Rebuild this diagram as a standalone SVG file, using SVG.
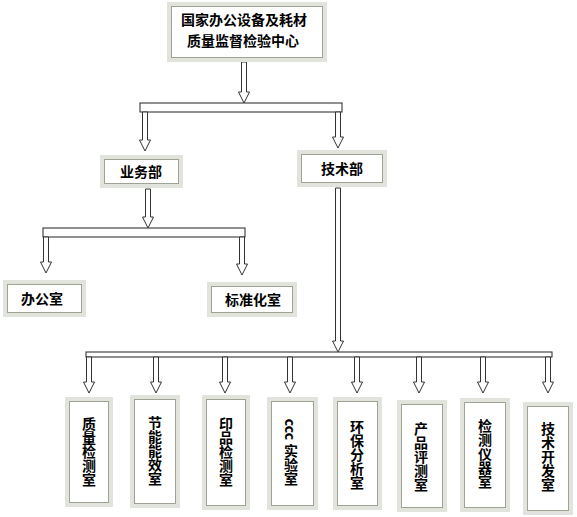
<svg xmlns="http://www.w3.org/2000/svg" width="577" height="517" viewBox="0 0 577 517">
<style>
.o{fill:#ffffff;stroke:#e1e4dc;stroke-width:4}
.i{fill:none;stroke:#9ea393;stroke-width:1}
.t{font-family:"Noto Sans CJK SC","Noto Sans CJK JP",sans-serif;font-weight:bold;font-size:14px;fill:#000;text-anchor:middle}
.v{font-family:"Noto Sans CJK SC","Noto Sans CJK JP",sans-serif;font-weight:bold;font-size:14px;fill:#000;writing-mode:vertical-rl;text-anchor:middle;letter-spacing:0px}
.bar{fill:#fff;stroke:#222;stroke-width:1}
.ar{fill:#fff;stroke:#333;stroke-width:1}
</style>
<defs>
<polygon id="ah" points="-2.5,0 2.5,0 2.5,-10 5.5,-10 0,0 -5.5,-10 -2.5,-10"/>
</defs>
<rect width="577" height="517" fill="#fff"/>
<g id="connectors">
<rect class="bar" x="140" y="103" width="202" height="9"/>
<rect class="bar" x="43" y="228" width="202" height="9"/>
<rect class="bar" x="86" y="352" width="466" height="5"/>
<polygon class="ar" points="241.5,62 246.5,62 246.5,92 249.5,92 244,103 238.5,92 241.5,92"/>
<polygon class="ar" points="142.5,112 147.5,112 147.5,140 150.5,140 145,151 139.5,140 142.5,140"/>
<polygon class="ar" points="335.5,112 340.5,112 340.5,137 343.5,137 338,148 332.5,137 335.5,137"/>
<polygon class="ar" points="145.5,189 150.5,189 150.5,217 153.5,217 148,228 142.5,217 145.5,217"/>
<polygon class="ar" points="43.5,237 48.5,237 48.5,262 51.5,262 46,273 40.5,262 43.5,262"/>
<polygon class="ar" points="239.5,237 244.5,237 244.5,264 247.5,264 242,275 236.5,264 239.5,264"/>
<polygon class="ar" points="335.5,188 340.5,188 340.5,341 343.5,341 338,352 332.5,341 335.5,341"/>
<polygon class="ar" points="86.5,357 91.5,357 91.5,382 94.5,382 89,393 83.5,382 86.5,382"/>
<polygon class="ar" points="153.5,357 158.5,357 158.5,382 161.5,382 156,393 150.5,382 153.5,382"/>
<polygon class="ar" points="222.5,357 227.5,357 227.5,382 230.5,382 225,393 219.5,382 222.5,382"/>
<polygon class="ar" points="287.5,357 292.5,357 292.5,382 295.5,382 290,393 284.5,382 287.5,382"/>
<polygon class="ar" points="354.5,357 359.5,357 359.5,382 362.5,382 357,393 351.5,382 354.5,382"/>
<polygon class="ar" points="416.5,357 421.5,357 421.5,382 424.5,382 419,393 413.5,382 416.5,382"/>
<polygon class="ar" points="480.5,357 485.5,357 485.5,382 488.5,382 483,393 477.5,382 480.5,382"/>
<polygon class="ar" points="545.5,357 550.5,357 550.5,382 553.5,382 548,393 542.5,382 545.5,382"/>
</g>
<g id="center">
<rect class="o" x="169" y="4" width="156" height="56"/>
<rect class="i" x="171.5" y="6.5" width="151" height="51"/>
<text class="t" x="244" y="25">国家办公设备及耗材</text>
<text class="t" x="243" y="46">质量监督检验中心</text>
</g>
<g id="yewu">
<rect class="o" x="102" y="157" width="79" height="29"/>
<rect class="i" x="104.5" y="159.5" width="74" height="24"/>
<text class="t" x="141" y="177">业务部</text>
</g>
<g id="jishu">
<rect class="o" x="299" y="152" width="86" height="33"/>
<rect class="i" x="301.5" y="154.5" width="81" height="28"/>
<text class="t" x="342" y="174">技术部</text>
</g>
<g id="bangong">
<rect class="o" x="5" y="282" width="79" height="33"/>
<rect class="i" x="7.5" y="284.5" width="74" height="28"/>
<text class="t" x="42" y="304">办公室</text>
</g>
<g id="biaozhun">
<rect class="o" x="209" y="284" width="86" height="31"/>
<rect class="i" x="211.5" y="286.5" width="81" height="26"/>
<text class="t" x="253" y="305">标准化室</text>
</g>
<g id="r1">
<rect class="o" x="67" y="399" width="44" height="106"/>
<rect class="i" x="69.5" y="401.5" width="39" height="101"/>
<text class="v" x="89" y="452">质量检测室</text>
</g>
<g id="r2">
<rect class="o" x="132" y="397" width="46" height="109"/>
<rect class="i" x="134.5" y="399.5" width="41" height="104"/>
<text class="v" x="155" y="451">节能能效室</text>
</g>
<g id="r3">
<rect class="o" x="204" y="397" width="44" height="111"/>
<rect class="i" x="206.5" y="399.5" width="39" height="106"/>
<text class="v" x="226" y="452">印品检测室</text>
</g>
<g id="r4">
<rect class="o" x="269" y="399" width="47" height="109"/>
<rect class="i" x="271.5" y="401.5" width="42" height="104"/>
<text class="v" x="291" y="452">ccc 实验室</text>
</g>
<g id="r5">
<rect class="o" x="335" y="399" width="45" height="109"/>
<rect class="i" x="337.5" y="401.5" width="40" height="104"/>
<text class="v" x="357" y="455">环保分析室</text>
</g>
<g id="r6">
<rect class="o" x="399" y="402" width="46" height="108"/>
<rect class="i" x="401.5" y="404.5" width="41" height="103"/>
<text class="v" x="421" y="457">产品评测室</text>
</g>
<g id="r7">
<rect class="o" x="462" y="400" width="46" height="110"/>
<rect class="i" x="464.5" y="402.5" width="41" height="105"/>
<text class="v" x="485" y="454">检测仪器室</text>
</g>
<g id="r8">
<rect class="o" x="525" y="404" width="46" height="109"/>
<rect class="i" x="527.5" y="406.5" width="41" height="104"/>
<text class="v" x="548" y="457">技术开发室</text>
</g>
</svg>
